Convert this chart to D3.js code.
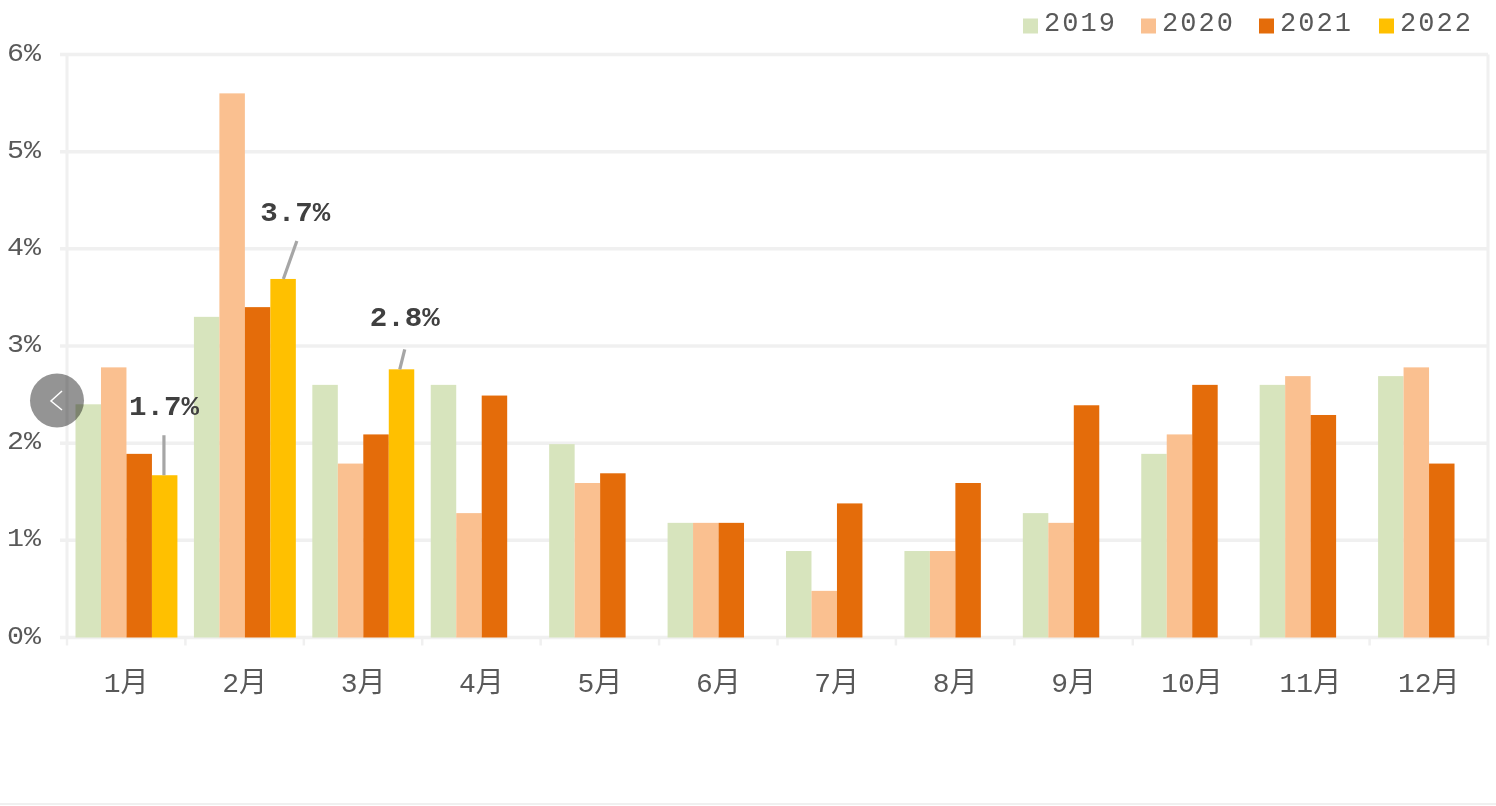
<!DOCTYPE html>
<html><head><meta charset="utf-8">
<script src="https://cdn.jsdelivr.net/npm/d3@7/dist/d3.min.js"></script>
<style>
html,body{margin:0;padding:0;background:#fff;overflow:hidden}
svg{display:block;filter:blur(0.5px)}
text{font-family:"Liberation Mono","Noto Sans CJK SC",monospace;fill:#595959}
</style></head><body>
<svg id="c" width="1496" height="806"></svg>
<script>
const months = ["1月","2月","3月","4月","5月","6月","7月","8月","9月","10月","11月","12月"];
const years = ["2019","2020","2021","2022"];
const colors = ["#d7e4bd","#fac090","#e46c0a","#ffc000"];
const v2019 = [2.4,3.3,2.6,2.6,1.99,1.18,0.89,0.89,1.28,1.89,2.6,2.69];
const v2020 = [2.78,5.6,1.79,1.28,1.59,1.18,0.48,0.89,1.18,2.09,2.69,2.78];
const v2021 = [1.89,3.4,2.09,2.49,1.69,1.18,1.38,1.59,2.39,2.6,2.29,1.79];
const v2022 = [1.67,3.69,2.76,null,null,null,null,null,null,null,null,null];
const labels2022 = ["1.7%","3.7%","2.8%"];
const yTicks = [0,1,2,3,4,5,6];
const series = [v2019,v2020,v2021,v2022];

const svg = d3.select("#c");
const x = d3.scaleBand().domain(months).range([67,1488]);
const x1 = d3.scaleBand().domain(years).range([8.5,x.bandwidth()-8]);
const y = d3.scaleLinear().domain([0,6]).range([637.5,54.5]);
const grid = "#f0f0f0";

svg.append("g").selectAll("line").data(yTicks).join("line")
  .attr("x1",60).attr("x2",1488).attr("y1",d=>y(d)).attr("y2",d=>y(d))
  .attr("stroke",grid).attr("stroke-width",3.5);
svg.append("g").selectAll("line").data([67,1488]).join("line")
  .attr("x1",d=>d).attr("x2",d=>d).attr("y1",y(6)).attr("y2",y(0))
  .attr("stroke",grid).attr("stroke-width",3);

svg.append("g").selectAll("line").data(months.map(m=>x(m)).concat([x.range()[1]])).join("line")
  .attr("x1",d=>d).attr("x2",d=>d).attr("y1",y(0)).attr("y2",y(0)+8)
  .attr("stroke",grid).attr("stroke-width",2.5);

series.forEach((vals,i)=>{
  svg.append("g").attr("fill",colors[i]).selectAll("rect")
    .data(vals.map((v,j)=>({v,m:months[j]})).filter(d=>d.v!=null)).join("rect")
    .attr("x",d=>x(d.m)+x1(years[i])).attr("width",x1.bandwidth())
    .attr("y",d=>y(d.v)).attr("height",d=>y(0)-y(d.v));
});

svg.append("g").selectAll("text").data(yTicks).join("text")
  .attr("x",7).attr("y",d=>y(d)+6).attr("font-size",26)
  .attr("textLength",34).attr("lengthAdjust","spacingAndGlyphs")
  .text(d=>d+"%");

svg.append("g").selectAll("text").data(months).join("text")
  .attr("x",d=>x(d)+x.bandwidth()/2).attr("y",692).attr("text-anchor","middle")
  .attr("font-size",28).text(d=>d);

const notes = [
  {m:0, lx:[12,12], ly:[0,-40], tx:12, ty:-60},
  {m:1, lx:[13,26.5], ly:[0,-38], tx:25, ty:-58},
  {m:2, lx:[11,16], ly:[0,-20], tx:16, ty:-43}
];
const g = svg.append("g");
notes.forEach(n=>{
  const px = x(months[n.m])+x1("2022"), py = y(v2022[n.m]);
  g.append("line").attr("x1",px+n.lx[0]).attr("x2",px+n.lx[1])
    .attr("y1",py+n.ly[0]).attr("y2",py+n.ly[1])
    .attr("stroke","#a6a6a6").attr("stroke-width",3.2);
  g.append("text").attr("x",px+n.tx).attr("y",py+n.ty).attr("text-anchor","middle")
    .attr("font-size",27).attr("font-weight","bold")
    .attr("textLength",70).attr("lengthAdjust","spacingAndGlyphs")
    .style("fill","#404040").text(labels2022[n.m]);
});

const legX = [1023,1141,1259,1379];
const lg = svg.append("g");
years.forEach((yr,i)=>{
  lg.append("rect").attr("x",legX[i]).attr("y",18.5).attr("width",15).attr("height",15).attr("fill",colors[i]);
  lg.append("text").attr("x",legX[i]+21).attr("y",31).attr("font-size",27)
    .attr("textLength",71).text(yr);
});

svg.append("line").attr("x1",0).attr("x2",1496).attr("y1",804).attr("y2",804).attr("stroke",grid).attr("stroke-width",2);

svg.append("circle").attr("cx",57).attr("cy",400.5).attr("r",27).attr("fill","#000").attr("fill-opacity",0.42);
svg.append("path").attr("d",d3.line()([[62,391],[51,401],[62,410]])).attr("fill","none").attr("stroke","#fff").attr("stroke-width",1.5);
</script>
</body></html>
